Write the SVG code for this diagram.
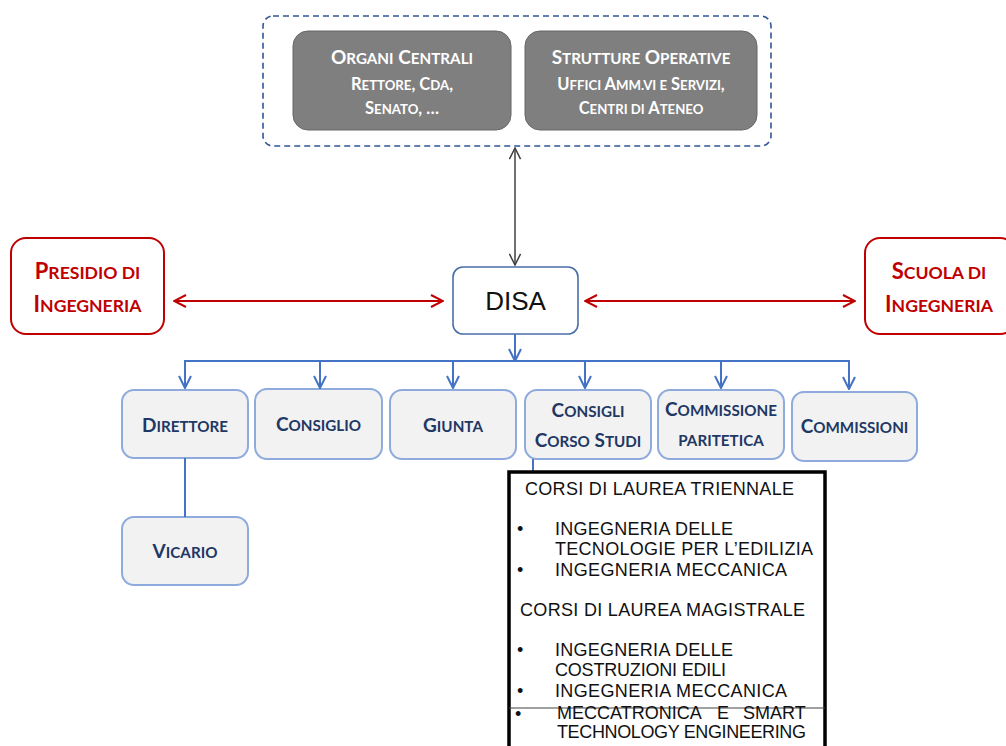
<svg xmlns="http://www.w3.org/2000/svg" width="1006" height="746" viewBox="0 0 1006 746">
<defs>
<style>
.sc{font-family:Lato,"Open Sans","Liberation Sans",sans-serif;font-weight:700;text-anchor:middle}
.gb{fill:#7f7f7f;stroke:#666;stroke-width:1}
.nb{fill:#f2f2f2;stroke:#8faadc;stroke-width:2}
.rb{fill:#fff;stroke:#c00000;stroke-width:2}
.nt{fill:#1f3864;font-size:19px}
.nt .s{font-size:15.2px}
.h1{fill:#fff;font-size:19px}
.h1 .s{font-size:15.2px}
.h2{fill:#fff;font-size:16.5px}
.h2 .s{font-size:13.2px}
.rt{fill:#c00000;font-size:22px}
.rt .s{font-size:17.6px}
.lt{font-family:"Liberation Sans",Arial,sans-serif;font-size:18px;fill:#111}
.cb{stroke:#4472c4;stroke-width:2;fill:none}
.cr{stroke:#c00000;stroke-width:2;fill:none}
.cg{stroke:#404040;stroke-width:1.5;fill:none}
</style>
<marker id="mr" viewBox="0 0 14 14" refX="13" refY="7" markerWidth="14" markerHeight="14" markerUnits="userSpaceOnUse" orient="auto-start-reverse"><path d="M1,1 L13,7 L1,13" fill="none" stroke="#c00000" stroke-width="2"/></marker>
<marker id="mb" viewBox="0 0 14 14" refX="13" refY="7" markerWidth="14" markerHeight="14" markerUnits="userSpaceOnUse" orient="auto-start-reverse"><path d="M1,1 L13,7 L1,13" fill="none" stroke="#4472c4" stroke-width="2"/></marker>
<marker id="mg" viewBox="0 0 14 14" refX="13" refY="7" markerWidth="13" markerHeight="13" markerUnits="userSpaceOnUse" orient="auto-start-reverse"><path d="M1,1 L13,7 L1,13" fill="none" stroke="#404040" stroke-width="1.6"/></marker>
</defs>
<rect width="1006" height="746" fill="#fff"/>

<g id="container">
<rect x="263" y="16" width="508" height="130" rx="10" fill="none" stroke="#2f5597" stroke-width="1.6" stroke-dasharray="6 4"/>
</g>

<g id="organi-centrali">
<rect class="gb" x="293" y="31" width="218" height="99" rx="15"/>
<text class="sc h1" x="402" y="64">O<tspan class="s">RGANI</tspan> C<tspan class="s">ENTRALI</tspan></text>
<text class="sc h2" x="402" y="90">R<tspan class="s">ETTORE</tspan>, C<tspan class="s">DA</tspan>,</text>
<text class="sc h2" x="402" y="114">S<tspan class="s">ENATO</tspan>, …</text>
</g>

<g id="strutture-operative">
<rect class="gb" x="525" y="31" width="232" height="99" rx="15"/>
<text class="sc h1" x="641" y="64">S<tspan class="s">TRUTTURE</tspan> O<tspan class="s">PERATIVE</tspan></text>
<text class="sc h2" x="641" y="90">U<tspan class="s">FFICI</tspan> A<tspan class="s">MM.VI E</tspan> S<tspan class="s">ERVIZI</tspan>,</text>
<text class="sc h2" x="641" y="114">C<tspan class="s">ENTRI DI</tspan> A<tspan class="s">TENEO</tspan></text>
</g>

<g id="presidio">
<rect class="rb" x="11" y="238" width="153" height="96" rx="15"/>
<text class="sc rt" x="87.5" y="279">P<tspan class="s">RESIDIO DI</tspan></text>
<text class="sc rt" x="87.5" y="312">I<tspan class="s">NGEGNERIA</tspan></text>
</g>

<g id="scuola">
<rect class="rb" x="865" y="238" width="150" height="96" rx="15"/>
<text class="sc rt" x="939" y="279">S<tspan class="s">CUOLA DI</tspan></text>
<text class="sc rt" x="939" y="312">I<tspan class="s">NGEGNERIA</tspan></text>
</g>

<g id="disa">
<rect x="453" y="267" width="125" height="67" rx="10" fill="#fff" stroke="#4a6ea8" stroke-width="1.6"/>
<text x="515.5" y="310" font-family="Liberation Sans, Arial, sans-serif" font-size="26" fill="#111" text-anchor="middle">DISA</text>
</g>

<g id="direttore">
<rect class="nb" x="122" y="390" width="126" height="68" rx="12"/>
<text class="sc nt" x="185" y="432">D<tspan class="s">IRETTORE</tspan></text>
</g>
<g id="consiglio">
<rect class="nb" x="255" y="389" width="127" height="70" rx="12"/>
<text class="sc nt" x="318.5" y="431">C<tspan class="s">ONSIGLIO</tspan></text>
</g>
<g id="giunta">
<rect class="nb" x="390" y="390" width="126" height="69" rx="12"/>
<text class="sc nt" x="453" y="432">G<tspan class="s">IUNTA</tspan></text>
</g>
<g id="consigli-corso-studi">
<rect class="nb" x="525" y="390" width="126" height="69" rx="12"/>
<text class="sc nt" x="588" y="417">C<tspan class="s">ONSIGLI</tspan></text>
<text class="sc nt" x="588" y="447">C<tspan class="s">ORSO</tspan> S<tspan class="s">TUDI</tspan></text>
</g>
<g id="commissione-paritetica">
<rect class="nb" x="658" y="390" width="126" height="69" rx="12"/>
<text class="sc nt" x="721" y="416">C<tspan class="s">OMMISSIONE</tspan></text>
<text class="sc nt" x="721" y="446"><tspan class="s">PARITETICA</tspan></text>
</g>
<g id="commissioni">
<rect class="nb" x="792" y="392" width="125" height="69" rx="12"/>
<text class="sc nt" x="854.5" y="433">C<tspan class="s">OMMISSIONI</tspan></text>
</g>
<g id="vicario">
<rect class="nb" x="122" y="517" width="126" height="68" rx="12"/>
<text class="sc nt" x="185" y="558">V<tspan class="s">ICARIO</tspan></text>
</g>

<g id="connectors">
<line class="cg" x1="515" y1="148" x2="515" y2="265" marker-start="url(#mg)" marker-end="url(#mg)"/>
<line class="cr" x1="174" y1="301" x2="443" y2="301" marker-start="url(#mr)" marker-end="url(#mr)"/>
<line class="cr" x1="585" y1="301" x2="855" y2="301" marker-start="url(#mr)" marker-end="url(#mr)"/>
<line class="cb" x1="515" y1="334" x2="515" y2="361" marker-end="url(#mb)"/>
<line class="cb" x1="184" y1="361" x2="850" y2="361"/>
<line class="cb" x1="185" y1="361" x2="185" y2="388" marker-end="url(#mb)"/>
<line class="cb" x1="320" y1="361" x2="320" y2="388" marker-end="url(#mb)"/>
<line class="cb" x1="453" y1="361" x2="453" y2="388" marker-end="url(#mb)"/>
<line class="cb" x1="585" y1="361" x2="585" y2="388" marker-end="url(#mb)"/>
<line class="cb" x1="721" y1="361" x2="721" y2="388" marker-end="url(#mb)"/>
<line class="cb" x1="849" y1="361" x2="849" y2="389" marker-end="url(#mb)"/>
<line class="cb" x1="185" y1="458" x2="185" y2="517"/>
<line class="cb" x1="533" y1="459" x2="533" y2="472"/>
</g>

<g id="corsi-di-laurea">
<rect x="509" y="472" width="316" height="290" fill="#fff" stroke="#000" stroke-width="3.5"/>
<line x1="509" y1="708" x2="825" y2="708" stroke="#444" stroke-width="1.2"/>
<text class="lt" x="525" y="495" textLength="269">CORSI DI LAUREA TRIENNALE</text>
<text class="lt" x="517" y="535">•</text>
<text class="lt" x="555" y="535" textLength="178">INGEGNERIA DELLE</text>
<text class="lt" x="555" y="555" textLength="258">TECNOLOGIE PER L’EDILIZIA</text>
<text class="lt" x="517" y="576">•</text>
<text class="lt" x="555" y="576" textLength="232">INGEGNERIA MECCANICA</text>
<text class="lt" x="520" y="616" textLength="285">CORSI DI LAUREA MAGISTRALE</text>
<text class="lt" x="517" y="656">•</text>
<text class="lt" x="555" y="656" textLength="178">INGEGNERIA DELLE</text>
<text class="lt" x="555" y="676" textLength="171">COSTRUZIONI EDILI</text>
<text class="lt" x="517" y="697">•</text>
<text class="lt" x="555" y="697" textLength="232">INGEGNERIA MECCANICA</text>
<text class="lt" x="515" y="720" font-size="24">•</text>
<text class="lt" y="719"><tspan x="557">MECCATRONICA</tspan><tspan x="717">E</tspan><tspan x="743">SMART</tspan></text>
<text class="lt" x="557" y="738" textLength="249">TECHNOLOGY ENGINEERING</text>
</g>
</svg>
